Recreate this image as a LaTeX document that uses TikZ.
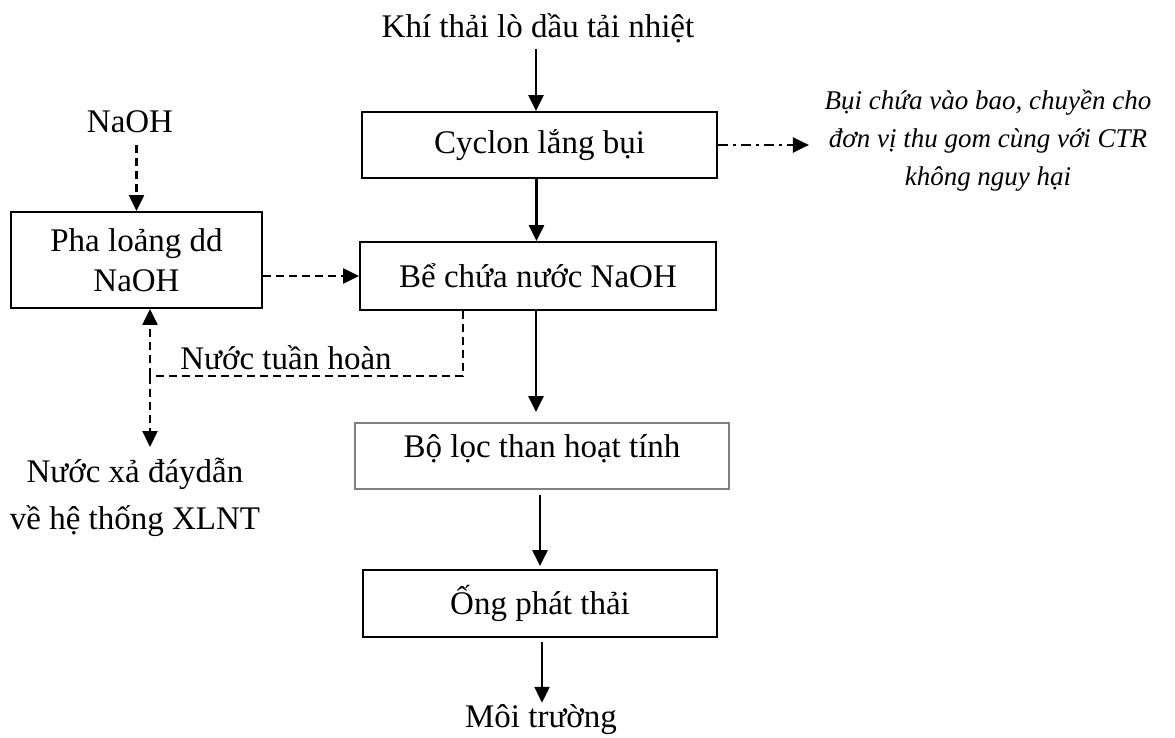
\documentclass[tikz,border=0pt]{standalone}
\usepackage{fontspec}
\setmainfont{Liberation Serif}
\usetikzlibrary{arrows.meta,calc}
\begin{document}
\begin{tikzpicture}[x=1pt,y=-1pt,
  font=\fontsize{33}{40}\selectfont,
  box/.style={draw, line width=1.8pt, align=center, inner sep=0pt},
  txt/.style={inner sep=2pt, align=center},
  arr/.style={line width=2.4pt, -{Triangle[length=16pt,width=15pt]}},
  dline/.style={line width=2.2pt, dash pattern=on 8pt off 5pt},
  darr/.style={dline, -{Triangle[length=16pt,width=15pt]}},
  ddarr/.style={line width=2.2pt, dash pattern=on 10pt off 5pt on 3pt off 5pt,
    -{Triangle[length=16pt,width=15pt]}}
]
\useasboundingbox (0,0) rectangle (1175,738);

% main treatment line
\node[txt] (khi) at (538,28) {Khí thải lò dầu tải nhiệt};
\node[box, minimum width=355pt, minimum height=66pt] (cyc) at (539.5,145) {Cyclon lắng bụi};
\node[box, minimum width=356pt, minimum height=68pt] (be) at (538,276) {Bể chứa nước NaOH};
\node[box, draw=gray, minimum width=374pt, minimum height=66pt] (loc) at (542,456) {};
\node[txt] (loct) at (542,449) {Bộ lọc than hoạt tính};
\node[box, minimum width=354pt, minimum height=67pt] (ong) at (540,603.5) {Ống phát thải};
\node[txt] (moi) at (541,720) {Môi trường};

% dust output
\node[txt, font=\itshape\fontsize{27}{38}\selectfont] (bui) at (988,141)
  {Bụi chứa vào bao, chuyền cho\\đơn vị thu gom cùng với CTR\\không nguy hại};

% NaOH dosing branch
\node[txt] (naoh) at (130,122) {NaOH};
\node[box, minimum width=251pt, minimum height=96pt] (pha) at (136.5,260) {Pha loảng dd\\NaOH};
\node[txt] (tuan) at (286,358) {Nước tuần hoàn};
\node[txt, font=\fontsize{33}{47}\selectfont] (xa) at (135,497) {Nước xả đáydẫn\\về hệ thống XLNT};
\coordinate (j) at (150,376);
\coordinate (xe) at (150,447);

% connectors
\draw[arr, shorten <=4pt] ([xshift=-2pt]khi.south) -- ([xshift=-2pt]khi.south |- cyc.north);
\draw[arr] ([xshift=-3pt]cyc.south) -- ([xshift=-3pt]cyc.south |- be.north);
\draw[arr, shorten >=10pt] ([xshift=-2pt]be.south) -- ([xshift=-2pt]be.south |- loc.north);
\draw[arr, shorten <=5pt, shorten >=3pt] ([xshift=-2pt]loc.south) -- ([xshift=-2pt]loc.south |- ong.north);
\draw[arr, shorten <=4pt] ([xshift=2pt]ong.south) -- ([xshift=2pt]ong.south |- moi.north);
\draw[ddarr] (cyc.east) -- ++(91,0);

\draw[darr, shorten <=10pt] (pha.north |- naoh.south) -- (pha.north);
\draw[darr] (pha.east |- be.west) -- (be.west);
\draw[dline] ([xshift=-75pt]be.south) |- (j);
\draw[darr] (j) -- (j |- pha.south);
\draw[darr] (j) -- (xe);
\end{tikzpicture}
\end{document}
